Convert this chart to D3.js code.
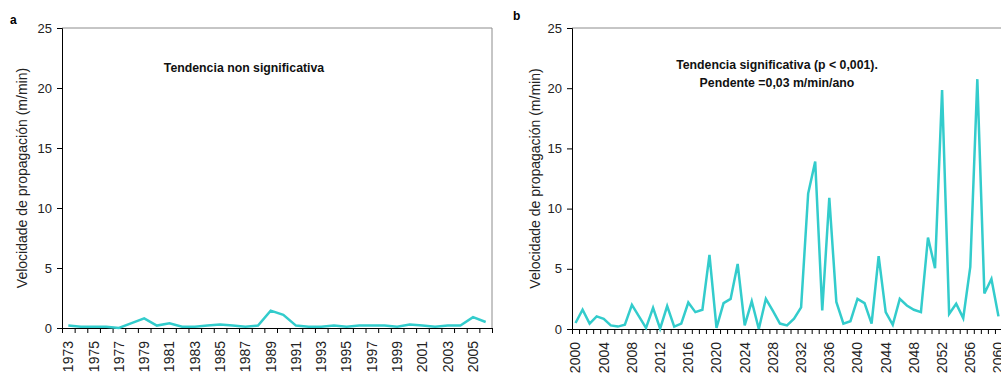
<!DOCTYPE html>
<html>
<head>
<meta charset="utf-8">
<script src="https://cdn.jsdelivr.net/npm/d3@7"></script>
<style>
  body { margin: 0; background: #fff; }
  svg { display: block; font-family: "Liberation Sans", Arial, sans-serif; }
</style>
</head>
<body>
<div id="chart"></div>
<script>
// panel a: 1973-2006
const yearsA = d3.range(1973, 2007);
const valuesA = [0.2, 0.1, 0.1, 0.1, 0.0, 0.4, 0.8, 0.2, 0.4, 0.1,
                 0.1, 0.2, 0.3, 0.2, 0.1, 0.2, 1.45, 1.1, 0.2, 0.1,
                 0.1, 0.2, 0.1, 0.2, 0.2, 0.2, 0.1, 0.3, 0.2, 0.1,
                 0.2, 0.2, 0.9, 0.5];
// panel b: 2000-2060
const yearsB = d3.range(2000, 2061);
const valuesB = [0.5, 1.6, 0.45, 1.05, 0.85, 0.3, 0.2, 0.35, 2.0, 1.05,
                 0.1, 1.75, 0.03, 1.9, 0.2, 0.45, 2.2, 1.4, 1.6, 6.15,
                 0.1, 2.15, 2.5, 5.4, 0.3, 2.3, 0.0, 2.5, 1.5, 0.45,
                 0.3, 0.85, 1.8, 11.25, 13.9, 1.55, 10.9, 2.25, 0.45, 0.65,
                 2.5, 2.15, 0.45, 6.05, 1.4, 0.35, 2.5, 1.95, 1.6, 1.4,
                 7.6, 5.05, 19.85, 1.25, 2.1, 0.9, 5.15, 20.75, 2.95, 4.15,
                 1.05];
const yTicks = [0, 5, 10, 15, 20, 25];
const yTitle = 'Velocidade de propagación (m/min)';

const svg = d3.select('#chart').append('svg')
  .attr('width', 1001)
  .attr('height', 373);

function drawPanel(cfg) {
  const g = svg.append('g');
  const n = cfg.years.length;

  const x = d3.scaleBand()
    .domain(cfg.years)
    .range([cfg.left, cfg.right])
    .padding(0);
  const xEdge = d3.scaleLinear()
    .domain([0, n])
    .range([cfg.left, cfg.right]);
  const y = d3.scaleLinear()
    .domain([0, 25])
    .range([cfg.bottom, cfg.top]);

  // plot frame (top and right in grey)
  g.append('path')
    .attr('d', `M${cfg.left},${cfg.top}H${cfg.right}V${cfg.bottom}`)
    .attr('fill', 'none')
    .attr('stroke', '#8c8c8c')
    .attr('stroke-width', 1);

  // y axis
  const yAxis = g.append('g')
    .attr('transform', `translate(${cfg.left},0)`)
    .call(d3.axisLeft(y).tickValues(yTicks).tickSize(5).tickPadding(5));
  yAxis.select('.domain').attr('stroke', '#000');
  yAxis.selectAll('text')
    .attr('font-size', 13)
    .attr('fill', '#222')
    .attr('font-family', '"Liberation Sans", Arial, sans-serif');

  // x tick marks at category edges
  const xTickAxis = g.append('g')
    .attr('transform', `translate(0,${cfg.bottom})`)
    .call(d3.axisBottom(xEdge).tickValues(d3.range(n + 1)).tickSize(5).tickFormat(''));
  xTickAxis.select('.domain').attr('stroke', '#000');

  // x labels at category centres
  const xLabelAxis = g.append('g')
    .attr('transform', `translate(0,${cfg.bottom})`)
    .call(d3.axisBottom(x).tickValues(cfg.years.filter((d, i) => i % cfg.every === 0)).tickSize(0));
  xLabelAxis.select('.domain').remove();
  xLabelAxis.selectAll('text')
    .attr('transform', 'rotate(-90)')
    .attr('x', -13)
    .attr('y', 0)
    .attr('dy', '0.35em')
    .attr('text-anchor', 'end')
    .attr('font-size', 14)
    .attr('fill', '#222')
    .attr('font-family', '"Liberation Sans", Arial, sans-serif');

  // series line
  const line = d3.line()
    .x((d, i) => x(cfg.years[i]) + x.bandwidth() / 2)
    .y(d => y(d));
  g.append('path')
    .datum(cfg.values)
    .attr('d', line)
    .attr('fill', 'none')
    .attr('stroke', '#33cccc')
    .attr('stroke-width', 2.5)
    .attr('stroke-linejoin', 'miter');

  // y title
  g.append('text')
    .attr('transform', `translate(${cfg.titleX},${(cfg.top + cfg.bottom) / 2}) rotate(-90)`)
    .attr('text-anchor', 'middle')
    .attr('dy', '0.35em')
    .attr('font-size', 14)
    .attr('fill', '#222')
    .text(yTitle);

  // panel letter
  g.append('text')
    .attr('x', cfg.letterX)
    .attr('y', cfg.letterY)
    .attr('font-size', 12)
    .attr('font-weight', 'bold')
    .text(cfg.letter);

  // annotation
  cfg.note.forEach((t, i) => {
    g.append('text')
      .attr('x', cfg.noteX)
      .attr('y', cfg.noteY + i * 18)
      .attr('text-anchor', 'middle')
      .attr('font-size', 12.3)
      .attr('font-weight', 'bold')
      .attr('fill', '#111')
      .text(t);
  });
}

drawPanel({
  years: yearsA, values: valuesA, every: 2,
  left: 62, right: 492, top: 28, bottom: 328,
  titleX: 22, letter: 'a', letterX: 10, letterY: 24,
  note: ['Tendencia non significativa'], noteX: 244, noteY: 72
});

drawPanel({
  years: yearsB, values: valuesB, every: 4,
  left: 572, right: 1002, top: 28, bottom: 329,
  titleX: 535, letter: 'b', letterX: 513, letterY: 20,
  note: ['Tendencia significativa (p < 0,001).', 'Pendente =0,03 m/min/ano'], noteX: 777, noteY: 69
});
</script>
</body>
</html>
